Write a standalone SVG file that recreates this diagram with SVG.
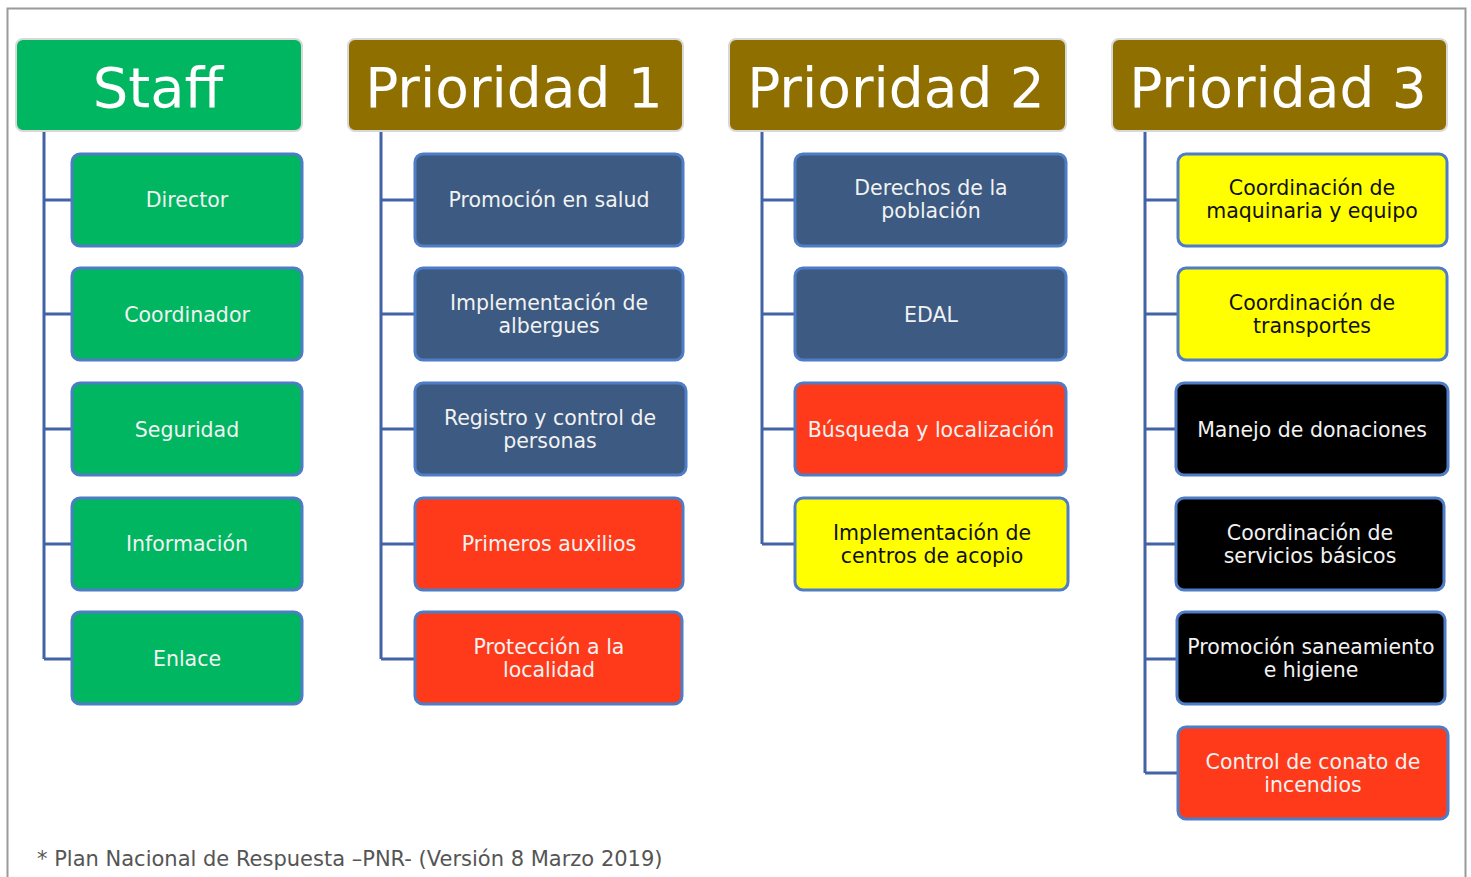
<svg xmlns="http://www.w3.org/2000/svg" width="1471" height="877" viewBox="0 0 1471 877">
<style>
.hdr{stroke:#d8d8d8;stroke-width:2}
.g{fill:#00B661}.b{fill:#8F6F00}
.n{stroke:#4E7CC6;stroke-width:3}
.nb{fill:#3C5A82}.ng{fill:#00B661}.nr{fill:#FF3A1A}.ny{fill:#FFFF00}.nk{fill:#000}
.ht{font-family:"DejaVu Sans",sans-serif;font-size:55px;fill:#fff;text-anchor:middle}
.t{font-family:"DejaVu Sans",sans-serif;font-size:20.5px;fill:#f2f2f2;text-anchor:middle}
.dk{fill:#111}
.c{fill:none;stroke:#4263A6;stroke-width:3}
</style>
<rect x="0" y="0" width="1471" height="877" fill="#fff"/>
<path d="M7.5 880 V8.5 H1465.5 V880" fill="none" stroke="#9a9a9a" stroke-width="2"/>
<g id="connectors">
<path class="c" d="M44 130 V659 M44 200 H72 M44 314 H72 M44 429 H72 M44 544 H72 M44 659 H72"/>
<path class="c" d="M381 130 V659 M381 200 H415 M381 314 H415 M381 429 H415 M381 544 H415 M381 659 H415"/>
<path class="c" d="M762 130 V544 M762 200 H795 M762 314 H795 M762 429 H795 M762 544 H795"/>
<path class="c" d="M1145 130 V773 M1145 200 H1178 M1145 314 H1178 M1145 429 H1178 M1145 544 H1178 M1145 659 H1178 M1145 773 H1178"/>
</g>
<g id="staff"><rect class="hdr g" x="16" y="39" width="286" height="92" rx="7"/><text class="ht" x="158" y="107" style="font-size:56px">Staff</text></g>
<g id="p1"><rect class="hdr b" x="348" y="39" width="335" height="92" rx="7"/><text class="ht" x="514" y="107">Prioridad 1</text></g>
<g id="p2"><rect class="hdr b" x="729" y="39" width="337" height="92" rx="7"/><text class="ht" x="896" y="107">Prioridad 2</text></g>
<g id="p3"><rect class="hdr b" x="1112" y="39" width="335" height="92" rx="7"/><text class="ht" x="1278" y="107">Prioridad 3</text></g>

<g id="director"><rect class="n ng" x="72" y="154" width="230" height="92" rx="8"/><text class="t" x="187" y="207">Director</text></g>
<g id="coordinador"><rect class="n ng" x="72" y="268" width="230" height="92" rx="8"/><text class="t" x="187" y="322">Coordinador</text></g>
<g id="seguridad"><rect class="n ng" x="72" y="383" width="230" height="92" rx="8"/><text class="t" x="187" y="437">Seguridad</text></g>
<g id="informacion"><rect class="n ng" x="72" y="498" width="230" height="92" rx="8"/><text class="t" x="187" y="551">Información</text></g>
<g id="enlace"><rect class="n ng" x="72" y="612" width="230" height="92" rx="8"/><text class="t" x="187" y="666">Enlace</text></g>

<g id="promocion-salud"><rect class="n nb" x="415" y="154" width="268" height="92" rx="8"/><text class="t" x="549" y="207">Promoción en salud</text></g>
<g id="albergues"><rect class="n nb" x="415" y="268" width="268" height="92" rx="8"/><text class="t" x="549" y="310">Implementación de</text><text class="t" x="549" y="333">albergues</text></g>
<g id="registro"><rect class="n nb" x="415" y="383" width="271" height="92" rx="8"/><text class="t" x="550" y="425">Registro y control de</text><text class="t" x="550" y="448">personas</text></g>
<g id="primeros-auxilios"><rect class="n nr" x="415" y="498" width="268" height="92" rx="8"/><text class="t" x="549" y="551">Primeros auxilios</text></g>
<g id="proteccion"><rect class="n nr" x="415" y="612" width="267" height="92" rx="8"/><text class="t" x="549" y="654">Protección a la</text><text class="t" x="549" y="677">localidad</text></g>

<g id="derechos"><rect class="n nb" x="795" y="154" width="271" height="92" rx="8"/><text class="t" x="931" y="195">Derechos de la</text><text class="t" x="931" y="218">población</text></g>
<g id="edal"><rect class="n nb" x="795" y="268" width="271" height="92" rx="8"/><text class="t" x="931" y="322">EDAL</text></g>
<g id="busqueda"><rect class="n nr" x="795" y="383" width="271" height="92" rx="8"/><text class="t" x="931" y="437">Búsqueda y localización</text></g>
<g id="acopio"><rect class="n ny" x="795" y="498" width="273" height="92" rx="8"/><text class="t dk" x="932" y="540">Implementación de</text><text class="t dk" x="932" y="563">centros de acopio</text></g>

<g id="maquinaria"><rect class="n ny" x="1178" y="154" width="269" height="92" rx="8"/><text class="t dk" x="1312" y="195">Coordinación de</text><text class="t dk" x="1312" y="218">maquinaria y equipo</text></g>
<g id="transportes"><rect class="n ny" x="1178" y="268" width="269" height="92" rx="8"/><text class="t dk" x="1312" y="310">Coordinación de</text><text class="t dk" x="1312" y="333">transportes</text></g>
<g id="donaciones"><rect class="n nk" x="1176" y="383" width="272" height="92" rx="8"/><text class="t" x="1312" y="437">Manejo de donaciones</text></g>
<g id="servicios"><rect class="n nk" x="1176" y="498" width="268" height="92" rx="8"/><text class="t" x="1310" y="540">Coordinación de</text><text class="t" x="1310" y="563">servicios básicos</text></g>
<g id="saneamiento"><rect class="n nk" x="1177" y="612" width="268" height="92" rx="8"/><text class="t" x="1311" y="654">Promoción saneamiento</text><text class="t" x="1311" y="677">e higiene</text></g>
<g id="incendios"><rect class="n nr" x="1178" y="727" width="270" height="92" rx="8"/><text class="t" x="1313" y="769">Control de conato de</text><text class="t" x="1313" y="792">incendios</text></g>

<text x="37" y="866" style="font-family:'DejaVu Sans',sans-serif;font-size:21px;fill:#555">* Plan Nacional de Respuesta –PNR- (Versión 8 Marzo 2019)</text>
</svg>
